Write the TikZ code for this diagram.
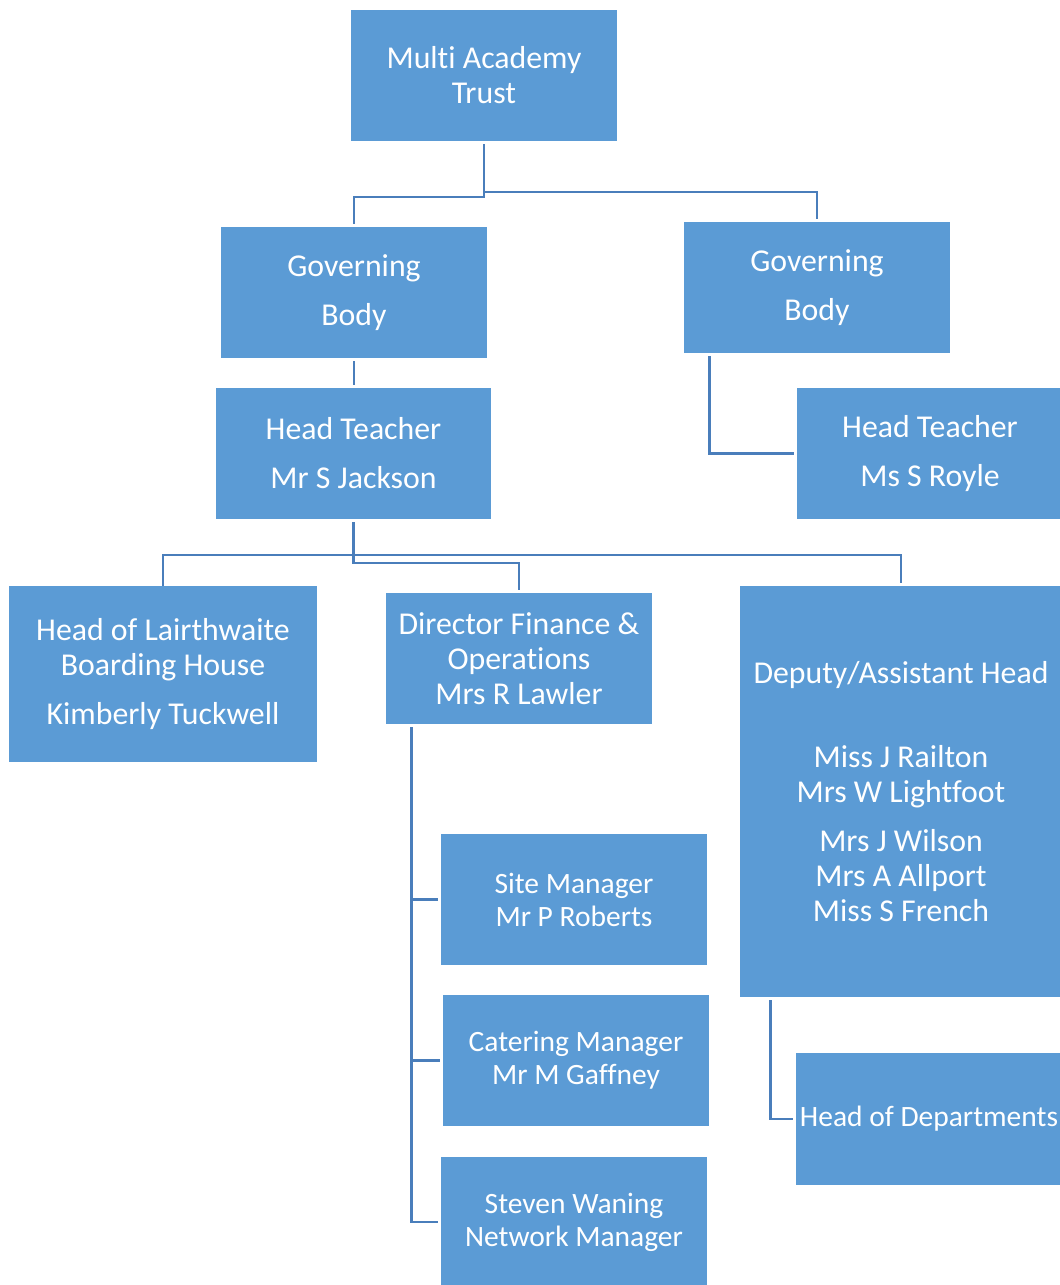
\documentclass[tikz,border=0pt]{standalone}
\usepackage{fontspec}
\setmainfont{Carlito}[Ligatures=NoCommon]
\usepackage{tikz}
\usetikzlibrary{positioning}
\definecolor{boxblue}{HTML}{5B9BD5}
\definecolor{linkblue}{HTML}{4A7EBB}
\tikzset{orgbox/.style={rectangle,draw=none,fill=boxblue,text=white,
inner sep=0pt,align=center,minimum height=131pt, minimum width=266pt,
font=\fontsize{31.8}{35}\selectfont}}
\tikzset{orgboxsmall/.style={orgbox,font=\fontsize{29.5}{33}\selectfont}}
\tikzset{link/.style={draw=linkblue,line width=2.8pt,shorten <=3pt,shorten >=3pt}}

\begin{document}
\begin{tikzpicture}[x=1pt,y=-1pt]
        \useasboundingbox (0,0) rectangle (1060,1285);

        \node[orgbox] (mat) at (484, 75.5) {Multi Academy\\Trust};
        \node[orgbox] (gbA) at (354, 292.5) {Governing\\[14pt]Body};
        \node[orgbox] (gbB) at (817, 287.5) {Governing\\[14pt]Body};
        \node[orgbox, minimum width=275pt] (htA) at (353.5, 453.5) {Head Teacher\\[14pt]Mr S Jackson};
        \node[orgbox] (htB) at (930, 453.5) {Head Teacher\\[14pt]Ms S Royle};

        \node[orgbox, minimum width=308pt, minimum height=176pt] (lair) at (163, 674)
            {Head of Lairthwaite\\Boarding House\\[14pt]Kimberly Tuckwell};
        \node[orgbox] (dir) at (519, 658.5) {Director Finance \&\\Operations\\Mrs R Lawler};
        \node[orgbox, minimum width=322pt, minimum height=411pt] (dep) at (901, 791.5)
            {Deputy/Assistant Head\\[49pt]Miss J Railton\\Mrs W Lightfoot\\[14pt]Mrs J Wilson\\Mrs A Allport\\Miss S French};

        \node[orgboxsmall] (site) at (574, 899.5) {Site Manager\\Mr P Roberts};
        \node[orgboxsmall] (cat) at (576, 1060.5) {Catering Manager\\Mr M Gaffney};
        \node[orgboxsmall, minimum height=130pt] (net) at (574, 1222) {Steven Waning\\Network Manager};
        \node[orgboxsmall, minimum height=132pt] (hod) at (929, 1119) {Head of Departments};

        % trust to governing bodies
        \draw[link] (mat.south) -- (mat.south |- 0,197) -| (gbA.north);
        \draw[link, shorten <=0pt] (mat.south |- 0,192) -| (gbB.north);
        \draw[link] (gbA.south) -- (gbA.south |- htA.north);
        \draw[link] ([xshift=26pt]gbB.south west) |- (htB.west);

        % head teacher to staff
        \draw[link, shorten <=0pt] (lair.north) -- (lair.north |- 0,555) -| (dep.north);
        \draw[link] (htA.south) -- (htA.south |- 0,563) -| (dir.north);

        % director to managers
        \draw[link] ([xshift=26pt]dir.south west) |- (site.west);
        \draw[link] ([xshift=26pt]dir.south west) |- (cat.west);
        \draw[link] ([xshift=26pt]dir.south west) |- (net.west);

        % deputy to departments
        \draw[link] ([xshift=31pt]dep.south west) |- (hod.west);

    \end{tikzpicture}
\end{document}
